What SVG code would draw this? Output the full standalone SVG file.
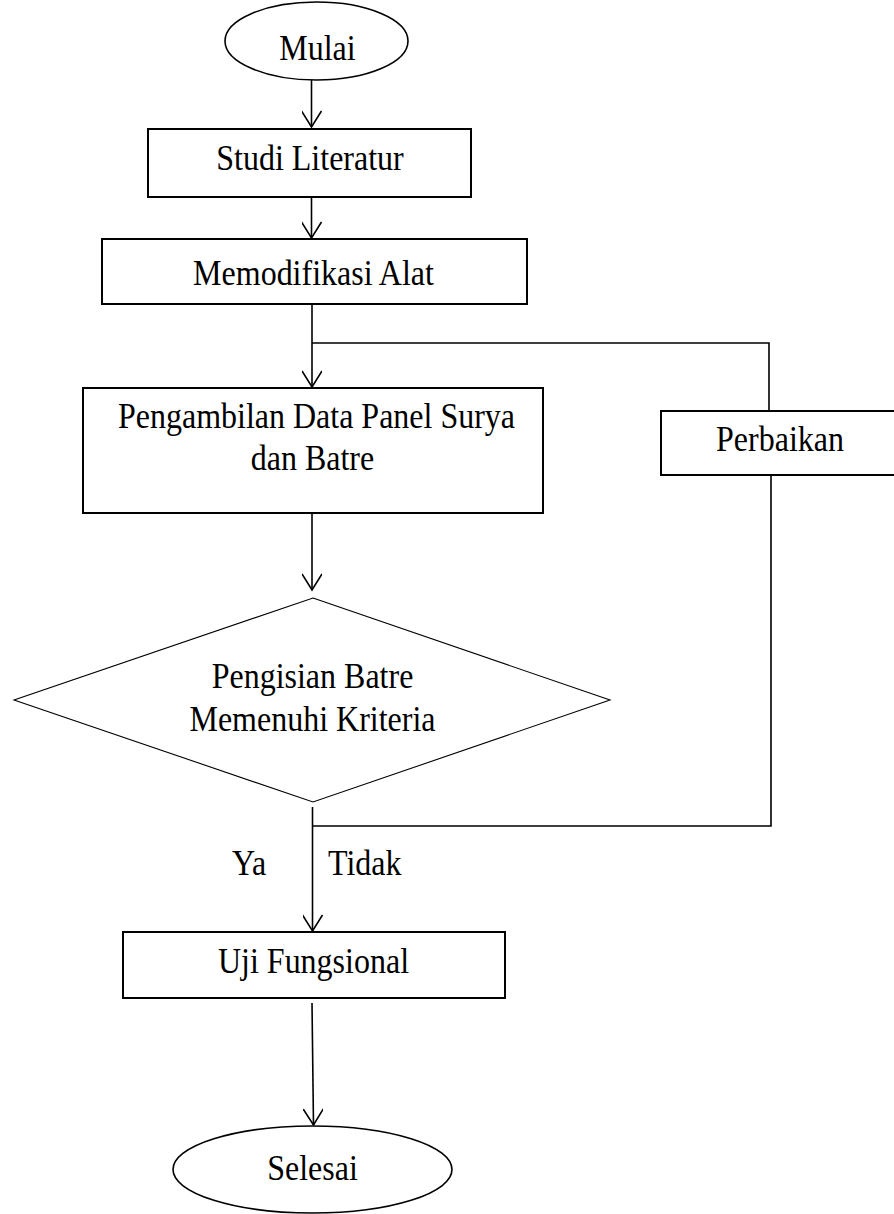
<svg xmlns="http://www.w3.org/2000/svg" width="894" height="1214" viewBox="0 0 894 1214">
<defs>
<style>
.box{fill:#fff;stroke:#000;stroke-width:2}
.term{fill:#fff;stroke:#000;stroke-width:1.6}
.dec{fill:#fff;stroke:#000;stroke-width:1.1}
.ln{fill:none;stroke:#000;stroke-width:1.6}
.t{font-family:"Liberation Serif","Times New Roman",serif;font-size:32px;fill:#000;text-anchor:middle}
.tl{font-family:"Liberation Serif","Times New Roman",serif;font-size:32px;fill:#000}
</style>
<marker id="arr" viewBox="0 0 20 20" markerWidth="20" markerHeight="20" refX="18" refY="10" orient="auto" markerUnits="userSpaceOnUse">
<path d="M2,0 L18,10 L2,20" fill="none" stroke="#000" stroke-width="1.6"/>
</marker>
</defs>
<rect width="894" height="1214" fill="#fff"/>
<g id="connectors">
<line class="ln" x1="311.5" y1="80" x2="311.5" y2="127" marker-end="url(#arr)"/>
<line class="ln" x1="311.5" y1="197" x2="311.5" y2="238" marker-end="url(#arr)"/>
<line class="ln" x1="312" y1="305" x2="312" y2="387" marker-end="url(#arr)"/>
<polyline class="ln" points="312,343 769,343 769,411"/>
<line class="ln" x1="312" y1="513" x2="312" y2="590" marker-end="url(#arr)"/>
<line class="ln" x1="312.5" y1="807" x2="312.5" y2="931" marker-end="url(#arr)"/>
<polyline class="ln" points="313,826 771,826 771,475"/>
<line class="ln" x1="312" y1="1003" x2="313.5" y2="1125" marker-end="url(#arr)"/>
</g>
<g id="mulai">
<ellipse class="term" cx="316.5" cy="41" rx="91.5" ry="39"/>
<text class="t" transform="translate(317.5,60) scale(1,1.1)">Mulai</text>
</g>
<g id="studi">
<rect class="box" x="148" y="129" width="323" height="68"/>
<text class="t" transform="translate(310,170) scale(1,1.1)">Studi Literatur</text>
</g>
<g id="memodifikasi">
<rect class="box" x="102" y="239" width="425" height="65"/>
<text class="t" transform="translate(313.5,285) scale(1,1.1)">Memodifikasi Alat</text>
</g>
<g id="pengambilan">
<rect class="box" x="83" y="388" width="460" height="125"/>
<text class="t" transform="translate(316.5,428) scale(1,1.1)">Pengambilan Data Panel Surya</text>
<text class="t" transform="translate(312.5,470) scale(1,1.1)">dan Batre</text>
</g>
<g id="perbaikan">
<rect class="box" x="661" y="411" width="245" height="64"/>
<text class="t" transform="translate(780,451) scale(1,1.1)">Perbaikan</text>
</g>
<g id="keputusan">
<polygon class="dec" points="313,598 610,700 313,802 14,700"/>
<text class="t" transform="translate(312.5,688) scale(1,1.1)">Pengisian Batre</text>
<text class="t" transform="translate(312.5,731) scale(1,1.1)">Memenuhi Kriteria</text>
</g>
<g id="label-ya">
<text class="tl" transform="translate(232,875) scale(1,1.1)">Ya</text>
</g>
<g id="label-tidak">
<text class="tl" transform="translate(328,875) scale(1,1.1)">Tidak</text>
</g>
<g id="uji">
<rect class="box" x="123" y="932" width="382" height="66"/>
<text class="t" transform="translate(313.5,973) scale(1,1.1)">Uji Fungsional</text>
</g>
<g id="selesai">
<ellipse class="term" cx="312.5" cy="1169.5" rx="139.5" ry="43.5"/>
<text class="t" transform="translate(312.5,1180) scale(1,1.1)">Selesai</text>
</g>
</svg>
